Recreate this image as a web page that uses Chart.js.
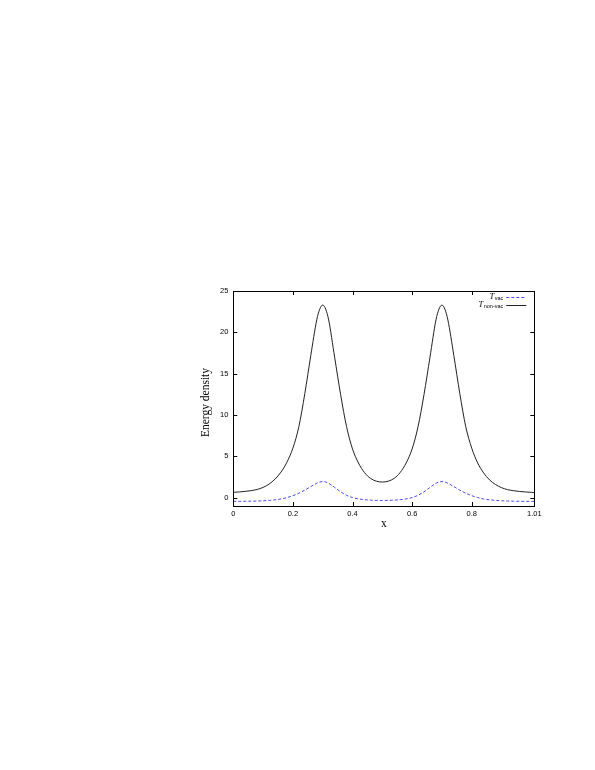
<!DOCTYPE html>
<html><head><meta charset="utf-8">
<script src="https://cdn.jsdelivr.net/npm/chart.js@4.4.0/dist/chart.umd.min.js"></script>
<style>html,body{margin:0;padding:0;background:#fff;} #wrap{position:absolute;left:0;top:0;width:595px;height:770px;}</style>
</head><body><div id="wrap"><canvas id="c" width="595" height="770"></canvas></div>
<script>
const xValues = [0, 0.02, 0.04, 0.06, 0.08, 0.10, 0.12, 0.14, 0.16, 0.18, 0.20, 0.22, 0.24, 0.26, 0.28, 0.29, 0.30, 0.31,
  0.32, 0.34, 0.36, 0.38, 0.40, 0.42, 0.44, 0.46, 0.48, 0.50, 0.52, 0.54, 0.56, 0.58, 0.60, 0.62, 0.64, 0.66, 0.68,
  0.69, 0.70, 0.71, 0.72, 0.74, 0.76, 0.78, 0.80, 0.82, 0.84, 0.86, 0.88, 0.90, 0.92, 0.94, 0.96, 0.98, 1.00, 1.01];
const nonVacValues = [0.65, 0.70, 0.77, 0.86, 1.00, 1.25, 1.65, 2.25, 3.10, 4.30, 6.00, 8.60, 12.6, 17.2, 21.5, 22.8, 23.3, 22.8,
  21.5, 17.0, 12.5, 8.6, 5.9, 4.2, 3.05, 2.35, 2.0, 1.9, 2.0, 2.35, 3.05, 4.2, 5.9, 8.6, 12.5, 17.0, 21.5,
  22.8, 23.3, 22.8, 21.5, 17.2, 12.6, 8.6, 6.0, 4.2, 3.0, 2.15, 1.6, 1.22, 0.98, 0.85, 0.76, 0.70, 0.65, 0.63];
const vacValues = [-0.44, -0.44, -0.43, -0.42, -0.40, -0.37, -0.32, -0.25, -0.15, 0.02, 0.25, 0.55, 0.92, 1.35, 1.75, 1.90, 1.95, 1.90,
  1.75, 1.25, 0.72, 0.30, 0.02, -0.14, -0.23, -0.29, -0.32, -0.33, -0.32, -0.29, -0.23, -0.14, 0.02, 0.30, 0.72, 1.25, 1.75,
  1.90, 1.95, 1.90, 1.75, 1.35, 0.92, 0.55, 0.25, 0.02, -0.15, -0.25, -0.32, -0.37, -0.40, -0.42, -0.43, -0.44, -0.44, -0.44];
const xTicks = [0, 0.2, 0.4, 0.6, 0.8, 1.01];
const xTickLabels = ['0', '0.2', '0.4', '0.6', '0.8', '1.01'];
const yTicks = [0, 5, 10, 15, 20, 25];
const yTickLabels = ['0', '5', '10', '15', '20', '25'];
const seriesNames = ['vac', 'non-vac'];
const xTitle = 'x';
const yTitle = 'Energy density';

const blue = '#4a4af0';
const black = '#222222';
const tickFont = {family: '"Liberation Sans", Arial, sans-serif', size: 7.5};

const framePlugin = {
  id: 'frame',
  afterDraw(chart) {
    const ctx = chart.ctx;
    const {left, right, top, bottom} = chart.chartArea;
    const xs = chart.scales.x, ys = chart.scales.y;
    ctx.save();
    ctx.strokeStyle = '#000';
    ctx.lineWidth = 1;
    ctx.strokeRect(Math.round(left) + 0.5, Math.round(top) + 0.5, Math.round(right - left), Math.round(bottom - top));
    ctx.beginPath();
    const tl = 4;
    xTicks.forEach(v => {
      const p = Math.round(xs.getPixelForValue(v)) + 0.5;
      ctx.moveTo(p, bottom); ctx.lineTo(p, bottom - tl);
      ctx.moveTo(p, top); ctx.lineTo(p, top + tl);
    });
    yTicks.forEach(v => {
      const p = Math.round(ys.getPixelForValue(v)) + 0.5;
      ctx.moveTo(left, p); ctx.lineTo(left + tl, p);
      ctx.moveTo(right, p); ctx.lineTo(right - tl, p);
    });
    ctx.stroke();

    // axis titles
    ctx.fillStyle = '#000';
    ctx.font = '11.5px "Liberation Serif", "Times New Roman", serif';
    ctx.textAlign = 'center';
    ctx.textBaseline = 'middle';
    ctx.fillText(xTitle, (left + right) / 2, bottom + 18);
    ctx.save();
    ctx.translate(left - 27, (top + bottom) / 2 + 4);
    ctx.rotate(-Math.PI / 2);
    ctx.fillText(yTitle, 0, 0);
    ctx.restore();

    // legend
    const colors = [blue, black];
    const dashes = [[3, 2], []];
    const rows = [top + 6, top + 14];
    const textRight = right - 31;
    rows.forEach((ry, i) => {
      ctx.font = '5.5px "Liberation Sans", Arial, sans-serif';
      ctx.textAlign = 'right';
      ctx.textBaseline = 'alphabetic';
      const sub = seriesNames[i];
      const sw = ctx.measureText(sub).width;
      ctx.fillText(sub, textRight, ry + 3);
      ctx.font = 'italic 8.5px "Liberation Serif", "Times New Roman", serif';
      ctx.fillText('T', textRight - sw - 0.5, ry + 2);
      ctx.beginPath();
      ctx.setLineDash(dashes[i]);
      ctx.strokeStyle = colors[i];
      ctx.moveTo(right - 28, Math.round(ry) + 0.5);
      ctx.lineTo(right - 8, Math.round(ry) + 0.5);
      ctx.stroke();
      ctx.setLineDash([]);
    });
    ctx.restore();
  }
};

new Chart(document.getElementById('c'), {
  type: 'line',
  data: {
    datasets: [
      {
        label: 'T_vac',
        data: xValues.map((x, i) => ({x: x, y: vacValues[i]})),
        borderColor: blue, borderWidth: 1, borderDash: [3, 2],
        pointRadius: 0, fill: false, cubicInterpolationMode: 'monotone'
      },
      {
        label: 'T_non-vac',
        data: xValues.map((x, i) => ({x: x, y: nonVacValues[i]})),
        borderColor: black, borderWidth: 1,
        pointRadius: 0, fill: false, cubicInterpolationMode: 'monotone'
      }
    ]
  },
  options: {
    responsive: false, animation: false, devicePixelRatio: 1,
    layout: {padding: {left: 195, top: 291, right: 60.7, bottom: 234}},
    plugins: {legend: {display: false}, tooltip: {enabled: false}},
    scales: {
      x: {
        type: 'linear', min: 0, max: 1.01,
        afterBuildTicks: s => { s.ticks = xTicks.map(v => ({value: v})); },
        afterFit: s => { s.height = 30; },
        ticks: {callback: (v, i) => xTickLabels[i], font: tickFont, color: '#000', padding: 3, maxRotation: 0, autoSkip: false},
        grid: {display: false, drawTicks: false},
        border: {display: false}
      },
      y: {
        type: 'linear', min: -1, max: 25,
        afterBuildTicks: s => { s.ticks = yTicks.map(v => ({value: v})); },
        afterFit: s => { s.width = 38.3; },
        ticks: {callback: (v, i) => yTickLabels[i], font: tickFont, color: '#000', padding: 5, autoSkip: false},
        grid: {display: false, drawTicks: false},
        border: {display: false}
      }
    }
  },
  plugins: [framePlugin]
});
</script>
</body></html>
